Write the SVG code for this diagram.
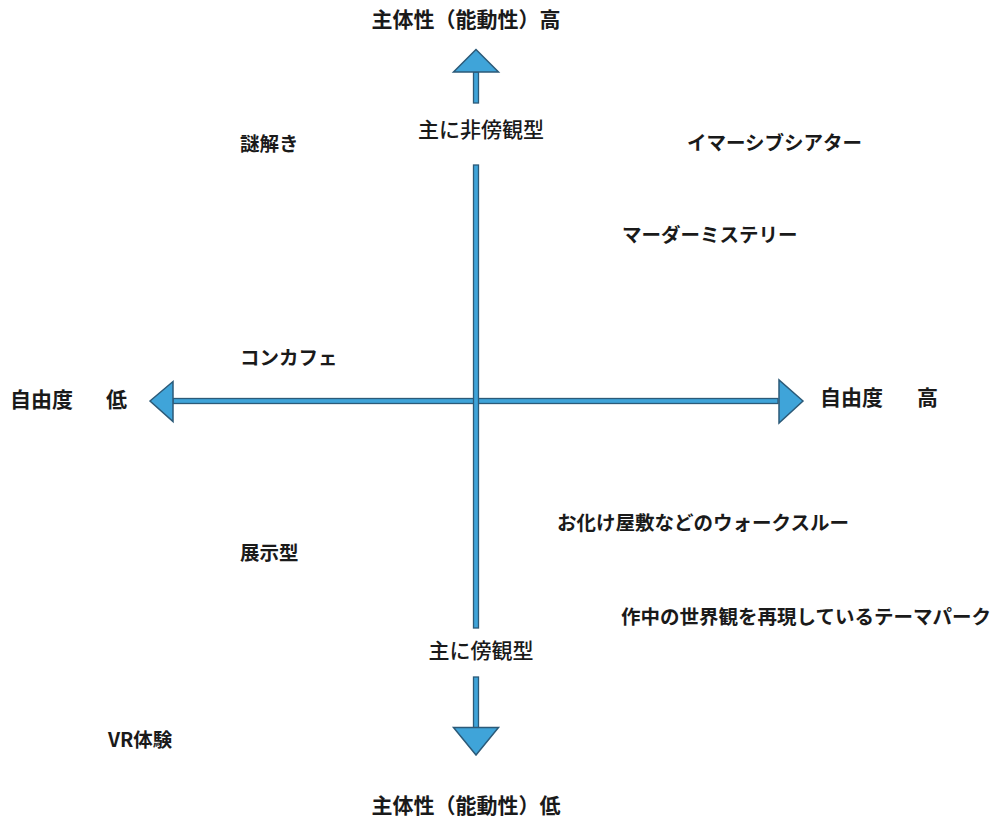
<svg xmlns="http://www.w3.org/2000/svg" width="993" height="818" viewBox="0 0 993 818">
<style>
.ax{fill:#3fa4d9;stroke:#2c5a78;stroke-width:1.3}
.hd{fill:#3fa4d9;stroke:#2c5a78;stroke-width:1.5;stroke-linejoin:miter}
text{font-family:"Noto Sans CJK JP","Noto Sans",sans-serif;fill:#1a1a1a;font-weight:bold}
.t{font-size:21px}
.l{font-size:19.5px}
.m{font-size:21px;font-weight:500}
</style>
<rect width="993" height="818" fill="#ffffff"/>
<g id="connectors">
<rect class="ax" x="173" y="398.5" width="605" height="5"/>
<polygon class="hd" points="150,401 173,381.5 173,421.5"/>
<polygon class="hd" points="803,401 779,380 779,423"/>
<rect class="ax" x="473.5" y="72" width="5" height="31"/>
<rect class="ax" x="473.5" y="165" width="5" height="463"/>
<rect class="ax" x="473.5" y="677" width="5" height="51"/>
<polygon class="hd" points="476,49.5 453.5,72 498.5,72"/>
<polygon class="hd" points="476,755 453.5,727.5 498.5,727.5"/>
</g>
<g id="axis-labels">
<text class="t" x="466" y="27" text-anchor="middle">主体性（能動性）高</text>
<text class="t" x="466" y="813" text-anchor="middle">主体性（能動性）低</text>
<text class="t" x="10" y="407">自由度<tspan x="106">低</tspan></text>
<text class="t" x="820" y="405">自由度<tspan x="917">高</tspan></text>
<text class="m" x="481" y="137" text-anchor="middle">主に非傍観型</text>
<text class="m" x="481" y="658" text-anchor="middle">主に傍観型</text>
</g>
<g id="n-nazotoki"><text class="l" x="240" y="151">謎解き</text></g>
<g id="n-immersive"><text class="l" x="687" y="150">イマーシブシアター</text></g>
<g id="n-murder"><text class="l" x="622" y="242">マーダーミステリー</text></g>
<g id="n-concafe"><text class="l" x="240" y="365">コンカフェ</text></g>
<g id="n-obake"><text class="l" x="557" y="530">お化け屋敷などのウォークスルー</text></g>
<g id="n-tenji"><text class="l" x="240" y="560">展示型</text></g>
<g id="n-themepark"><text class="l" x="621" y="624">作中の世界観を再現しているテーマパーク</text></g>
<g id="n-vr"><text class="l" x="108" y="747">VR体験</text></g>
</svg>
